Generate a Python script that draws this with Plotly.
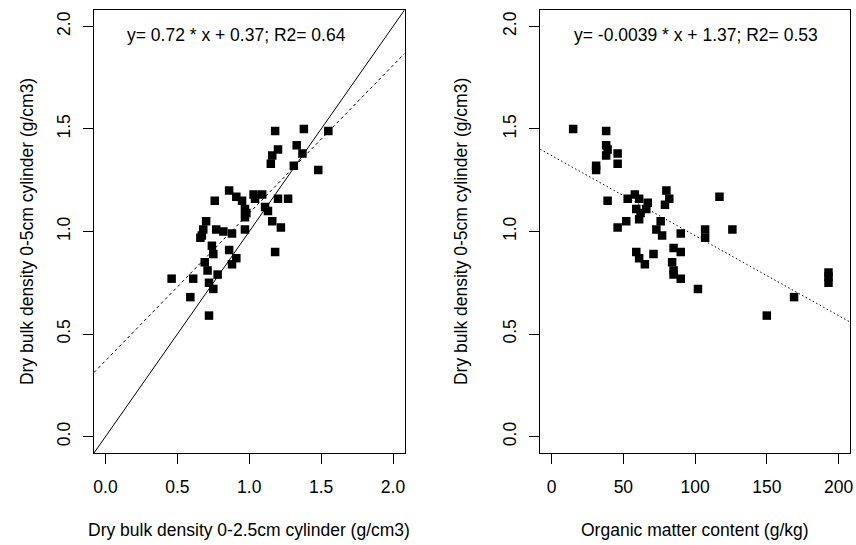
import plotly.graph_objects as go

# ---- data ----
bd_25cm = [1.18, 1.38, 1.55, 1.33, 1.20, 1.16, 1.15, 1.37, 1.31, 1.48,
           0.86, 0.76, 0.91, 0.95, 0.97, 0.98, 0.97, 1.03, 1.09, 1.04,
           1.20, 1.27, 1.11, 1.13, 1.16, 1.22, 1.18, 0.70, 0.68, 0.67,
           0.66, 0.77, 0.82, 0.88, 0.97, 0.74, 0.75, 0.86, 0.91, 0.69,
           0.88, 0.71, 0.78, 0.46, 0.61, 0.72, 0.75, 0.59, 0.72]
bd_5cm_left = [1.49, 1.50, 1.49, 1.42, 1.40, 1.37, 1.33, 1.38, 1.32, 1.30,
               1.20, 1.15, 1.17, 1.15, 1.11, 1.09, 1.07, 1.18, 1.18, 1.16,
               1.16, 1.16, 1.12, 1.10, 1.05, 1.02, 0.90, 1.05, 1.01, 0.98,
               0.97, 1.01, 1.00, 0.99, 1.01, 0.93, 0.89, 0.91, 0.87, 0.85,
               0.84, 0.81, 0.79, 0.77, 0.77, 0.75, 0.72, 0.68, 0.59]

om_content = [15, 38, 38, 39, 38, 46, 46, 31, 31, 39,
              80, 82, 79, 117, 58, 53, 61, 67, 59, 66,
              62, 61, 52, 46, 76, 73, 77, 90, 107, 107,
              126, 85, 90, 59, 61, 65, 71, 84, 85, 85,
              90, 102, 169, 150, 193, 193, 193]
bd_5cm_right = [1.50, 1.49, 1.42, 1.40, 1.37, 1.38, 1.33, 1.32, 1.30, 1.15,
                1.20, 1.16, 1.13, 1.17, 1.18, 1.16, 1.16, 1.14, 1.11, 1.11,
                1.09, 1.06, 1.05, 1.02, 1.05, 1.01, 0.98, 0.99, 1.01, 0.97,
                1.01, 0.92, 0.90, 0.90, 0.87, 0.84, 0.89, 0.85, 0.81, 0.79,
                0.77, 0.72, 0.68, 0.59, 0.80, 0.78, 0.75]

# regression coefficients (from the labels)
fit_left = (0.72, 0.37, 0.64)
fit_right = (-0.0039, 1.37, 0.53)

XL_RANGE = [-0.08, 2.08]
XR_RANGE = [-8, 208]
Y_RANGE = [-0.08, 2.08]

FONT = "Liberation Sans, Arial, sans-serif"
FS = 17.5

fig = go.Figure()

#--- left panel
fig.add_trace(go.Scatter(x=bd_25cm, y=bd_5cm_left, mode="markers",
                         marker=dict(symbol="square", size=8.5, color="black"),
                         xaxis="x", yaxis="y"))
fig.add_trace(go.Scatter(x=XL_RANGE, y=XL_RANGE, mode="lines",
                         line=dict(color="black", width=1), xaxis="x", yaxis="y"))
fig.add_trace(go.Scatter(x=XL_RANGE, y=[fit_left[0]*v + fit_left[1] for v in XL_RANGE],
                         mode="lines", line=dict(color="black", width=1, dash="3px,3px"),
                         xaxis="x", yaxis="y"))

#--- right panel
fig.add_trace(go.Scatter(x=om_content, y=bd_5cm_right, mode="markers",
                         marker=dict(symbol="square", size=8.5, color="black"),
                         xaxis="x2", yaxis="y2"))
fig.add_trace(go.Scatter(x=XR_RANGE, y=[fit_right[0]*v + fit_right[1] for v in XR_RANGE],
                         mode="lines", line=dict(color="black", width=1, dash="1.5px,2.5px"),
                         xaxis="x2", yaxis="y2"))

#--- axes
ax = dict(showline=True, mirror=True, linecolor="black", linewidth=1,
          showgrid=False, zeroline=False, ticks="outside", ticklen=10,
          tickcolor="black", tickfont=dict(family=FONT, size=FS, color="black"),
          ticklabeloverflow="allow")
yax = dict(ax, range=Y_RANGE, tickvals=[0, 0.5, 1, 1.5, 2], tickformat=".1f",
           tickangle=-90, ticklabelstandoff=6)

W, H = 856, 545
ML, MR, MT, MB = 93.7, 2.7, 10, 92
pw = W - ML - MR
ph = H - MT - MB
left_end = (405.7 - ML) / pw
right_start = (542 - ML) / pw

fig.update_layout(
    xaxis=dict(ax, domain=[0, left_end], range=XL_RANGE,
               tickvals=[0, 0.5, 1, 1.5, 2], tickformat=".1f", ticklabelstandoff=8),
    yaxis=dict(yax, domain=[0, 1], anchor="x"),
    xaxis2=dict(ax, domain=[right_start, 1], range=XR_RANGE,
                tickvals=[0, 50, 100, 150, 200], ticklabelstandoff=8, anchor="y2"),
    yaxis2=dict(yax, domain=[0, 1], anchor="x2"),
)

#--- text (positions given in page pixels)
def px_x(p):
    return (p - ML) / pw

def px_y(p):
    return (H - MB - p) / ph

txt = dict(family=FONT, size=FS, color="black")
annos = [
    dict(text=f"y= {fit_left[0]} * x + {fit_left[1]}; R2= {fit_left[2]}",
         x=px_x(236.7), y=px_y(35)),
    dict(text=f"y= {fit_right[0]} * x + {fit_right[1]}; R2= {fit_right[2]}",
         x=px_x(698.3), y=px_y(35)),
    dict(text="Dry bulk density 0-2.5cm cylinder (g/cm3)",
         x=px_x(249.7), y=px_y(530)),
    dict(text="Organic matter content (g/kg)",
         x=px_x(697.7), y=px_y(530)),
    dict(text="Dry bulk density 0-5cm cylinder (g/cm3)",
         x=px_x(26), y=px_y(231.5), textangle=-90),
    dict(text="Dry bulk density 0-5cm cylinder (g/cm3)",
         x=px_x(462), y=px_y(231.5), textangle=-90),
]
for a in annos:
    a.update(xref="paper", yref="paper", showarrow=False,
             xanchor="center", yanchor="middle", font=txt)

fig.update_layout(
    annotations=annos,
    width=W, height=H,
    margin=dict(l=ML, r=MR, t=MT, b=MB, pad=0),
    plot_bgcolor="white", paper_bgcolor="white",
    showlegend=False,
)

# drop the browser's default body margin so the figure fills the window
fig.write_html("out.html", config={"displayModeBar": False},
               post_script="document.body.style.margin='0';document.body.style.overflow='hidden';")
